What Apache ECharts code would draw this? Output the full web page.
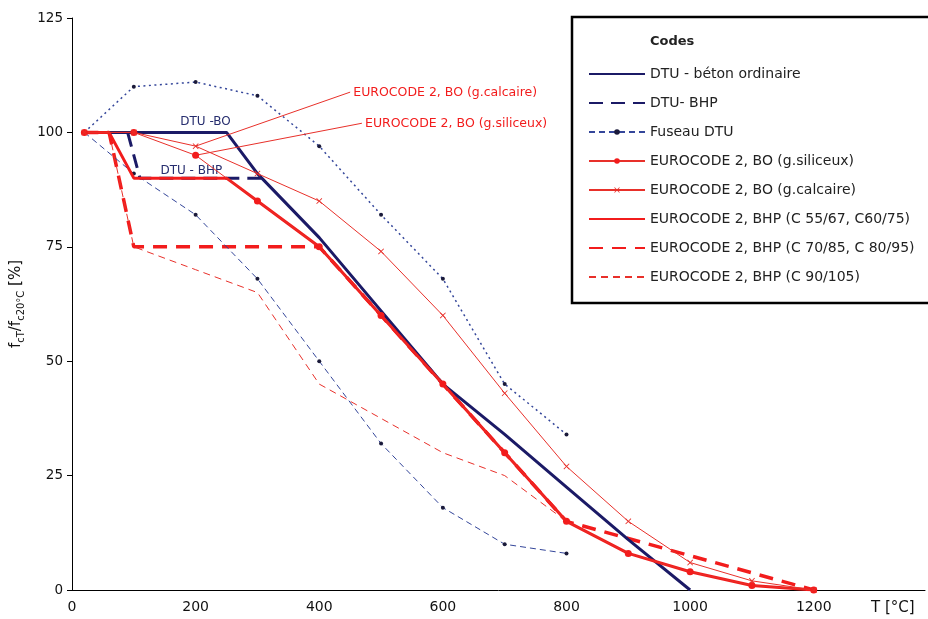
<!DOCTYPE html>
<html><head><meta charset="utf-8">
<script src="https://cdn.jsdelivr.net/npm/echarts@6/dist/echarts.min.js"></script>
<style>html,body{margin:0;padding:0;background:#fff}#c{width:928px;height:619px}</style>
</head><body><div id="c"></div>
<script>
// ---- data (T in °C, values in %) ----
const xTicks = [0, 200, 400, 600, 800, 1000, 1200];
const yTicks = [0, 25, 50, 75, 100, 125];

const dtuBO_T = [20, 250, 300, 400, 500, 600, 700, 800, 900, 1000];
const dtuBO_v = [100, 100, 91, 77, 61, 45, 34, 22.5, 11, 0];

const dtuBHP_T = [20, 90, 110, 310];
const dtuBHP_v = [100, 100, 90, 90];

const fuseau_T = [20, 100, 200, 300, 400, 500, 600, 700, 800];
const fuseauLow_v = [100, 91, 82, 68, 50, 32, 18, 10, 8];
const fuseauHigh_v = [100, 110, 111, 108, 97, 82, 68, 45, 34];

const ec2BO_T = [20, 100, 200, 300, 400, 500, 600, 700, 800, 900, 1000, 1100, 1200];
const ec2Silic_v = [100, 100, 95, 85, 75, 60, 45, 30, 15, 8, 4, 1, 0];
const ec2Calc_v = [100, 100, 97, 91, 85, 74, 60, 43, 27, 15, 6, 2, 0];

const bhp1_T = [20, 60, 100, 250, 300, 400, 500, 600, 700, 800, 900, 1000, 1100, 1200];
const bhp1_v = [100, 100, 90, 90, 85, 75, 60, 45, 30, 15, 8, 4, 1, 0];

const bhp2_T = [20, 60, 100, 400, 500, 600, 700, 800, 1200];
const bhp2_v = [100, 100, 75, 75, 60, 45, 30, 15, 0];

const bhp3_T = [20, 60, 100, 200, 300, 400, 600, 700, 800, 900, 1000, 1100, 1200];
const bhp3_v = [100, 100, 75, 70, 65, 45, 30, 25, 15, 8, 4, 1, 0];

const seriesNames = [
  'DTU - béton ordinaire', 'DTU- BHP', 'Fuseau DTU',
  'EUROCODE 2, BO (g.siliceux)', 'EUROCODE 2, BO (g.calcaire)',
  'EUROCODE 2, BHP (C 55/67, C60/75)', 'EUROCODE 2, BHP (C 70/85, C 80/95)',
  'EUROCODE 2, BHP (C 90/105)'
];
const legendHasMarker = [false, false, true, true, true, false, false, false];
const annoText = ['DTU -BO', 'DTU - BHP', 'EUROCODE 2, BO (g.calcaire)', 'EUROCODE 2, BO (g.siliceux)'];
const annoPos = [[216, 102.3], [193, 91.6], [455, 108.6], [474, 101.8]];
const leaderCalc = [[200, 97], [450, 108.8]];
const leaderSilic = [[200, 95], [469, 102]];

// ---- styles ----
const FONT = 'DejaVu Sans';
const NAVY = '#1b1a66';
const FUS = '#34469a';
const RED = '#f21c1c';
const RED2 = '#e8302a';
const XMARK = 'path://M0,1L1,0L5,4L9,0L10,1L6,5L10,9L9,10L5,6L1,10L0,9L4,5Z';

const pts = (T, v) => T.map((t, i) => [t, v[i]]);

const chart = echarts.init(document.getElementById('c'), null, {renderer: 'canvas'});

const option = {
  animation: false,
  backgroundColor: '#fff',
  grid: {left: 72, right: 0, top: 18, bottom: 29, containLabel: false},
  xAxis: {
    type: 'value', min: 0, max: 1380, interval: 200,
    axisLine: {lineStyle: {color: '#000', width: 1}},
    axisTick: {show: false},
    splitLine: {show: false},
    axisLabel: {
      color: '#111', fontFamily: FONT, fontSize: 14, margin: 10,
      formatter: v => (xTicks.indexOf(v) >= 0 ? String(v) : '')
    }
  },
  yAxis: {
    type: 'value', min: 0, max: 125, interval: 25,
    axisLine: {show: true, lineStyle: {color: '#000', width: 1}},
    axisTick: {show: true, length: 5, lineStyle: {color: '#000'}},
    splitLine: {show: false},
    axisLabel: {color: '#111', fontFamily: FONT, fontSize: 13.5, margin: 9,
      formatter: v => (yTicks.indexOf(v) >= 0 ? String(v) : '')},
    name: '{a|f}{b|cT}{a|/f}{b|c20°C}{a| [%]}',
    nameLocation: 'middle', nameRotate: 90, nameGap: 36,
    nameTextStyle: {
      rich: {
        a: {fontFamily: FONT, fontSize: 15, color: '#111', lineHeight: 18, verticalAlign: 'top'},
        b: {fontFamily: FONT, fontSize: 10, color: '#111', lineHeight: 12, padding: [8, 0, 0, 0], verticalAlign: 'top'}
      }
    }
  },
  legend: {
    show: true, orient: 'vertical', left: 583, top: 62,
    itemWidth: 56, itemHeight: 7, itemGap: 15,
    data: seriesNames.map((n, i) => legendHasMarker[i] ? {name: n} : {name: n, itemStyle: {opacity: 0}}),
    selectedMode: false,
    textStyle: {fontFamily: FONT, fontSize: 14, color: '#222', lineHeight: 14}
  },
  graphic: [
    {type: 'rect', z: 3, shape: {x: 572, y: 17, width: 420, height: 286},
     style: {fill: '#fff', stroke: '#000', lineWidth: 2.5}},
    {type: 'text', z: 5, left: 650, top: 35,
     style: {text: 'Codes', font: 'bold 13px "DejaVu Sans"', fill: '#222'}},
    {type: 'text', z: 5, left: 871, top: 601,
     style: {text: 'T [°C]', font: '15px "DejaVu Sans"', fill: '#111'}}
  ],
  series: [
    {name: seriesNames[6], type: 'line', data: pts(bhp2_T, bhp2_v), symbol: 'none', z: 3,
     lineStyle: {color: RED, width: 3.5, type: [14, 9]}, itemStyle: {color: RED}},
    {name: seriesNames[7], type: 'line', data: pts(bhp3_T, bhp3_v), symbol: 'none', z: 3,
     lineStyle: {color: RED2, width: 1, type: [7, 5]}, itemStyle: {color: RED2}},
    {name: 'Fuseau DTU sup', type: 'line', data: pts(fuseau_T, fuseauHigh_v), symbol: 'circle', symbolSize: 4, z: 3,
     lineStyle: {color: FUS, width: 1.5, type: [2, 3.5]}, itemStyle: {color: '#1a1a3a'}},
    {name: seriesNames[2], type: 'line', data: pts(fuseau_T, fuseauLow_v), symbol: 'circle', symbolSize: 4, z: 3,
     lineStyle: {color: FUS, width: 1, type: [6, 4]}, itemStyle: {color: '#1a1a3a'}},
    {name: seriesNames[0], type: 'line', data: pts(dtuBO_T, dtuBO_v), symbol: 'none', z: 4,
     lineStyle: {color: NAVY, width: 3}, itemStyle: {color: NAVY},
     markPoint: {silent: true, symbol: 'circle', symbolSize: 0,
       label: {show: true, position: 'inside', color: '#262d6e', fontFamily: FONT, fontSize: 12},
       data: [{coord: annoPos[0], label: {formatter: annoText[0]}}, {coord: annoPos[1], label: {formatter: annoText[1]}}]}},
    {name: seriesNames[1], type: 'line', data: pts(dtuBHP_T, dtuBHP_v), symbol: 'none', z: 4,
     lineStyle: {color: NAVY, width: 3, type: [14, 8]}, itemStyle: {color: NAVY}},
    {name: seriesNames[5], type: 'line', data: pts(bhp1_T, bhp1_v), symbol: 'none', z: 5,
     lineStyle: {color: RED, width: 3}, itemStyle: {color: RED}},
    {name: seriesNames[3], type: 'line', data: pts(ec2BO_T, ec2Silic_v), symbol: 'circle', symbolSize: 7, z: 6,
     lineStyle: {color: RED2, width: 1}, itemStyle: {color: RED},
     markLine: {silent: true, symbol: ['none', 'none'], label: {show: false},
       lineStyle: {color: RED2, width: 1, type: 'solid'},
       data: [[{coord: leaderSilic[0]}, {coord: leaderSilic[1]}]]},
     markPoint: {silent: true, symbol: 'circle', symbolSize: 0,
       label: {show: true, position: 'right', distance: 0, color: RED, fontFamily: FONT, fontSize: 12.5},
       data: [{coord: annoPos[3], label: {formatter: annoText[3]}}]}},
    {name: seriesNames[4], type: 'line', data: pts(ec2BO_T, ec2Calc_v), symbol: XMARK, symbolSize: 6, z: 6,
     lineStyle: {color: RED2, width: 1}, itemStyle: {color: RED2},
     markLine: {silent: true, symbol: ['none', 'none'], label: {show: false},
       lineStyle: {color: RED2, width: 1, type: 'solid'},
       data: [[{coord: leaderCalc[0]}, {coord: leaderCalc[1]}]]},
     markPoint: {silent: true, symbol: 'circle', symbolSize: 0,
       label: {show: true, position: 'right', distance: 0, color: RED, fontFamily: FONT, fontSize: 12.5},
       data: [{coord: annoPos[2], label: {formatter: annoText[2]}}]}}
  ]
};
chart.setOption(option);
</script></body></html>
